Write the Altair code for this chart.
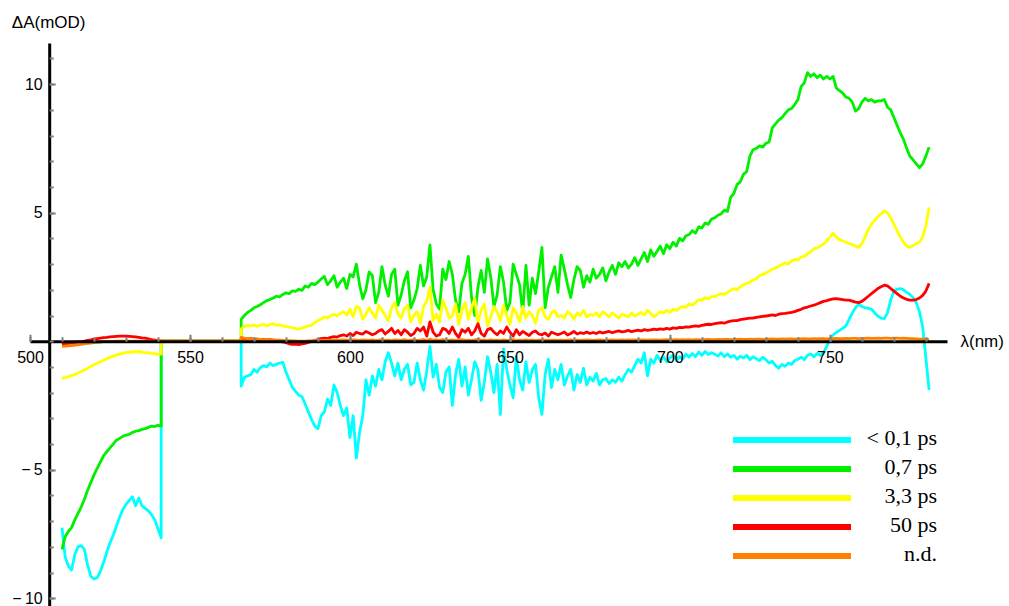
import altair as alt
import pandas as pd

# ---- series (legend order) -------------------------------------------------
SERIES = ["< 0,1 ps", "0,7 ps", "3,3 ps", "50 ps", "n.d."]
COLORS = ["#00FFFF", "#00F000", "#FFFF00", "#FF0000", "#FF8000"]

# ---- wavelength grids (nm) -------------------------------------------------
LEFT_NM = list(range(510, 542))      # blue-green probe window
MAIN_NM = list(range(566, 782))      # red / near-IR probe window
GAP_NM = [541, 566]                  # no probe light between windows -> 0

# ---- ΔA (mOD), 510-541 nm ---------------------------------------------------
left_cyan = [-7.25, -8.4, -8.75, -8.9, -8.3, -8.0, -7.95, -8.1, -8.7, -9.15,
             -9.25, -9.2, -8.95, -8.6, -8.2, -7.85, -7.55, -7.2, -6.85, -6.55,
             -6.35, -6.2, -6.05, -6.4, -6.1, -6.4, -6.5, -6.6, -6.75, -6.95,
             -7.3, -7.65]
left_green = [-8.1, -7.6, -7.4, -7.25, -6.95, -6.7, -6.45, -6.15, -5.8, -5.5,
              -5.2, -4.95, -4.7, -4.45, -4.3, -4.15, -4.0, -3.85, -3.78, -3.7,
              -3.65, -3.62, -3.55, -3.5, -3.48, -3.43, -3.4, -3.35, -3.3, -3.32,
              -3.27, -3.3]
left_yellow = [-1.45, -1.42, -1.38, -1.34, -1.3, -1.24, -1.18, -1.12, -1.05, -0.98,
               -0.92, -0.86, -0.8, -0.74, -0.68, -0.63, -0.58, -0.54, -0.5, -0.47,
               -0.44, -0.43, -0.42, -0.41, -0.4, -0.42, -0.45, -0.44, -0.47, -0.48,
               -0.5, -0.5]
left_red = [-0.1, -0.09, -0.08, -0.07, -0.05, -0.03, -0.02, 0.0, 0.03, 0.05,
            0.08, 0.1, 0.12, 0.14, 0.15, 0.17, 0.18, 0.19, 0.2, 0.2,
            0.2, 0.19, 0.18, 0.17, 0.15, 0.13, 0.12, 0.09, 0.06, 0.04,
            0.02, 0.0]
left_orange = [-0.2, -0.19, -0.18, -0.17, -0.15, -0.14, -0.12, -0.1, -0.08, -0.07,
               -0.05, -0.04, -0.03, -0.02, -0.02, -0.01, -0.01, 0.0, 0.0, 0.0,
               0.0, 0.0, 0.0, 0.0, 0.0, 0.0, 0.0, 0.0, 0.0, 0.0,
               0.0, 0.0]

# ---- ΔA (mOD), 566-781 nm ---------------------------------------------------
main_cyan = [
    -1.75, -1.4, -1.35, -1.3, -1.1, -1.2, -1.02, -0.95, -1.0, -0.85,
    -0.95, -0.9, -0.85, -0.82, -1.2, -1.5, -1.8, -1.95, -2.1, -2.15,
    -2.45, -2.75, -3.05, -3.3, -3.4, -2.9, -2.75, -2.25, -2.5, -1.7,
    -2.0, -2.5, -2.9, -2.6, -3.75, -2.9, -4.55, -3.55, -2.9, -1.5,
    -2.1, -1.35, -1.75, -1.1, -1.5, -0.8, -0.45, -0.85, -1.35, -0.85,
    -1.5, -1.1, -0.9, -1.7, -1.6, -0.85, -1.5, -1.9, -1.15, -0.2,
    -1.4, -0.9, -1.8, -2.0, -1.2, -1.0, -2.5, -1.3, -0.7, -1.75,
    -1.0, -2.1, -1.5, -0.8, -1.1, -2.3, -1.6, -0.6, -1.2, -2.0,
    -0.9, -2.85, -0.3, -1.1, -1.7, -2.2, -0.6, -1.5, -1.9, -0.8,
    -1.6, -1.1, -0.9, -2.2, -2.85, -1.3, -0.7, -1.8, -1.1, -1.5,
    -0.9, -1.7, -1.35, -1.1, -1.9, -1.3, -1.6, -1.05, -1.7, -1.4,
    -1.55, -1.25, -1.7, -1.5, -1.45, -1.65, -1.5, -1.6, -1.4, -1.55,
    -1.3, -1.1, -1.2, -0.95, -0.7, -0.85, -0.45, -1.35, -0.7, -0.85,
    -0.55, -0.75, -0.6, -0.8, -0.65, -0.55, -0.75, -0.6, -0.7, -0.5,
    -0.62, -0.48, -0.6, -0.42, -0.55, -0.4, -0.52, -0.45, -0.5, -0.58,
    -0.45, -0.6, -0.5, -0.62, -0.55, -0.7, -0.58, -0.65, -0.55, -0.72,
    -0.6, -0.68, -0.75, -0.62, -0.72, -0.85, -0.78, -0.95, -1.05, -0.9,
    -0.98, -0.85, -0.9, -0.75, -0.7, -0.62, -0.72, -0.55, -0.5, -0.6,
    -0.48, -0.55, -0.45, -0.2, 0.08, 0.25, 0.34, 0.42, 0.5, 0.6,
    0.85, 1.1, 1.3, 1.44, 1.35, 1.3, 1.28, 1.25, 1.1, 0.98,
    0.9, 0.88, 1.1, 1.6, 1.95, 2.02, 2.05, 2.0, 1.9, 1.82,
    1.7, 1.5, 1.15, 0.55, -0.65, -1.9,
]
main_green = [
    0.85, 1.0, 1.12, 1.2, 1.3, 1.35, 1.42, 1.5, 1.58, 1.62,
    1.68, 1.75, 1.72, 1.82, 1.88, 1.85, 1.96, 1.94, 2.02, 1.98,
    2.15, 2.1, 2.25, 2.2, 2.3, 2.42, 2.52, 2.2, 2.35, 2.55,
    2.1, 2.3, 2.45, 2.05, 2.6, 2.5, 3.0, 2.2, 1.65, 2.0,
    2.7, 2.55, 1.5, 1.9, 2.9, 2.2, 1.75, 2.6, 2.8, 1.4,
    1.8, 2.35, 2.7, 1.3, 1.6, 2.05, 2.95, 2.15, 2.5, 3.75,
    2.0, 1.45, 1.25, 2.8, 2.4, 3.1, 2.6, 1.6, 1.15, 2.25,
    2.6, 3.3, 1.7, 1.0, 2.1, 2.75, 1.9, 3.2, 2.5, 1.35,
    1.8, 2.9, 2.3, 1.2, 1.5, 3.0, 2.6, 2.2, 1.1, 2.95,
    1.4, 2.45, 1.85, 2.7, 3.65, 1.3, 2.1, 2.5, 2.9, 1.9,
    3.35, 2.8, 2.2, 1.7, 2.4, 2.9, 2.75, 2.1, 2.55, 2.3,
    2.8, 2.45, 2.6, 2.85, 2.35, 2.7, 2.95, 2.6, 3.05, 2.9,
    3.1, 2.85, 3.0, 3.25, 2.95, 3.2, 3.45, 3.1, 3.55, 3.3,
    3.5, 3.7, 3.4, 3.75, 3.6, 3.85, 3.7, 4.0, 3.9, 4.1,
    4.15, 4.3, 4.2, 4.45, 4.4, 4.6, 4.55, 4.75, 4.8, 4.9,
    4.95, 5.1, 5.05, 5.6, 5.75, 6.1, 6.2, 6.5, 6.6, 7.2,
    7.45, 7.5, 7.6, 7.55, 7.7, 7.75, 8.3, 8.45, 8.6, 8.7,
    8.85, 9.0, 9.05, 9.2, 9.4, 9.9, 10.05, 10.45, 10.3, 10.4,
    10.25, 10.35, 10.2, 10.3, 10.2, 10.3, 9.85, 9.75, 9.65, 9.5,
    9.45, 9.3, 8.95, 9.05, 9.3, 9.45, 9.35, 9.4, 9.3, 9.35,
    9.35, 9.4, 9.1, 9.0, 8.7, 8.4, 8.1, 7.85, 7.5, 7.2,
    7.05, 6.9, 6.75, 6.9, 7.2, 7.55,
]
main_yellow = [
    0.48, 0.58, 0.62, 0.6, 0.63, 0.58, 0.62, 0.66, 0.6, 0.65,
    0.68, 0.62, 0.64, 0.6, 0.57, 0.55, 0.52, 0.5, 0.47, 0.52,
    0.55, 0.6, 0.62, 0.72, 0.8, 0.86, 0.95, 0.9, 1.0, 1.05,
    0.98, 1.08, 1.15, 1.02, 1.25, 0.95, 1.35, 1.3, 0.85, 1.05,
    1.3, 1.1, 0.9, 1.4, 1.2, 1.0, 0.8, 1.3, 1.5, 1.05,
    0.9, 1.25, 1.4, 0.75, 1.0, 1.15, 0.7, 1.35, 1.55, 2.1,
    0.8, 1.05, 0.75, 1.6, 1.3, 0.9, 1.0, 1.45, 0.65, 1.2,
    1.5, 0.85, 1.3, 1.65, 0.7, 1.2, 1.45, 0.6, 0.95, 1.35,
    1.15, 0.8, 1.4, 1.0, 0.65, 1.3, 1.1, 0.75, 1.35, 0.9,
    1.15, 1.0, 0.7, 1.2, 1.3, 0.95, 0.85, 1.1, 1.2, 0.95,
    1.0, 0.9, 1.15, 1.05, 0.85, 1.1, 1.0, 1.2, 0.95, 1.05,
    1.0, 1.1, 0.95, 1.15, 1.05, 0.95, 1.1, 1.0, 0.9, 1.05,
    1.0, 0.95, 1.1, 0.98, 1.05, 1.12, 1.02, 1.2, 1.08, 0.95,
    1.05, 1.15, 1.1, 1.2, 1.12, 1.25, 1.2, 1.3, 1.35, 1.32,
    1.45, 1.4, 1.5, 1.62, 1.58, 1.7, 1.65, 1.75, 1.72, 1.8,
    1.85, 1.82, 1.9, 1.98, 2.05, 2.0, 2.12, 2.2, 2.25, 2.3,
    2.38, 2.42, 2.55, 2.6, 2.65, 2.72, 2.8, 2.85, 2.92, 2.98,
    3.05, 3.0, 3.12, 3.18, 3.15, 3.28, 3.3, 3.4, 3.48, 3.6,
    3.62, 3.7, 3.78, 3.9, 4.05, 4.2, 4.05, 3.95, 3.9, 3.85,
    3.8, 3.75, 3.7, 3.65, 3.8, 4.05, 4.35, 4.55, 4.7, 4.85,
    4.95, 5.07, 5.0, 4.8, 4.55, 4.3, 4.05, 3.85, 3.7, 3.65,
    3.72, 3.8, 3.85, 4.05, 4.5, 5.2,
]
main_red = [
    0.12, 0.1, 0.08, 0.1, 0.07, 0.08, 0.06, 0.07, 0.05, 0.06,
    0.04, 0.03, 0.0, -0.03, -0.06, -0.1, -0.12, -0.11, -0.13, -0.1,
    -0.08, -0.05, -0.01, 0.03, 0.06, 0.1, 0.12, 0.1, 0.15, 0.18,
    0.16, 0.22, 0.25, 0.2, 0.3, 0.22, 0.35, 0.3, 0.28, 0.38,
    0.32, 0.25, 0.3, 0.4, 0.45, 0.28, 0.38, 0.5, 0.3, 0.42,
    0.25, 0.45, 0.35, 0.22, 0.3, 0.5, 0.4, 0.55, 0.2, 0.75,
    0.35, 0.2, 0.25, 0.5, 0.45, 0.3, 0.55, 0.3, 0.15, 0.45,
    0.35, 0.5, 0.25, 0.4, 0.68, 0.3, 0.2, 0.45, 0.5, 0.35,
    0.25, 0.4, 0.3, 0.55, 0.35, 0.2, 0.45, 0.25, 0.38, 0.3,
    0.22, 0.35, 0.4, 0.28, 0.25, 0.32, 0.2, 0.35, 0.3, 0.25,
    0.3, 0.36, 0.24, 0.3, 0.38, 0.28, 0.33, 0.3, 0.36, 0.3,
    0.34, 0.3, 0.36, 0.32, 0.35, 0.38, 0.33, 0.37, 0.4, 0.36,
    0.38, 0.42, 0.37, 0.4, 0.43, 0.4, 0.45, 0.42, 0.44, 0.47,
    0.45, 0.48, 0.46, 0.5, 0.47, 0.52, 0.5, 0.54, 0.53, 0.56,
    0.55, 0.58, 0.6, 0.58, 0.62, 0.64, 0.66, 0.65, 0.68, 0.7,
    0.72, 0.7, 0.75, 0.78, 0.8, 0.8, 0.84, 0.86, 0.88, 0.9,
    0.9, 0.93, 0.95, 0.97, 0.98, 1.0, 1.02, 1.0, 1.05, 1.07,
    1.08, 1.1, 1.12, 1.15, 1.2, 1.24, 1.3, 1.33, 1.37, 1.4,
    1.45, 1.5, 1.55, 1.58, 1.62, 1.65, 1.66, 1.64, 1.62, 1.6,
    1.6, 1.56, 1.52, 1.5, 1.55, 1.65, 1.75, 1.85, 1.95, 2.05,
    2.12, 2.18, 2.15, 2.05, 1.95, 1.85, 1.75, 1.68, 1.63, 1.6,
    1.6, 1.62, 1.68, 1.78, 1.95, 2.25,
]
main_orange = [
    0.15, 0.12, 0.1, 0.1, 0.08, 0.08, 0.07, 0.06, 0.06, 0.05,
    0.05, 0.04, 0.04, 0.03, 0.02, 0.02, 0.01, 0.01, 0.0, 0.0,
    0.0, 0.01, 0.02, 0.02, 0.03, 0.03, 0.04, 0.03, 0.04, 0.04,
    0.03, 0.04, 0.05, 0.04, 0.03, 0.05, 0.04, 0.03, 0.05, 0.04,
    0.03, 0.05, 0.02, 0.04, 0.06, 0.03, 0.04, 0.02, 0.05, 0.04,
    0.03, 0.06, 0.02, 0.04, 0.05, 0.03, 0.04, 0.06, 0.02, 0.08,
    0.03, 0.05, 0.02, 0.06, 0.04, 0.03, 0.05, 0.02, 0.04, 0.06,
    0.03, 0.04, 0.02, 0.05, 0.07, 0.03, 0.04, 0.02, 0.05, 0.03,
    0.04, 0.02, 0.05, 0.03, 0.04, 0.06, 0.02, 0.04, 0.03, 0.05,
    0.03, 0.04, 0.02, 0.04, 0.05, 0.03, 0.04, 0.03, 0.04, 0.03,
    0.04, 0.03, 0.04, 0.05, 0.03, 0.04, 0.03, 0.04, 0.05, 0.04,
    0.03, 0.04, 0.05, 0.04, 0.03, 0.04, 0.05, 0.04, 0.04, 0.05,
    0.04, 0.05, 0.04, 0.05, 0.04, 0.05, 0.05, 0.04, 0.05, 0.05,
    0.05, 0.04, 0.05, 0.06, 0.05, 0.05, 0.06, 0.05, 0.06, 0.05,
    0.06, 0.05, 0.06, 0.06, 0.05, 0.06, 0.07, 0.06, 0.06, 0.07,
    0.06, 0.07, 0.07, 0.06, 0.07, 0.07, 0.08, 0.07, 0.07, 0.08,
    0.07, 0.08, 0.08, 0.07, 0.08, 0.08, 0.09, 0.08, 0.08, 0.09,
    0.08, 0.09, 0.09, 0.08, 0.09, 0.09, 0.1, 0.09, 0.09, 0.1,
    0.09, 0.1, 0.1, 0.09, 0.1, 0.1, 0.11, 0.1, 0.1, 0.11,
    0.1, 0.11, 0.11, 0.1, 0.11, 0.11, 0.12, 0.11, 0.11, 0.12,
    0.11, 0.12, 0.12, 0.11, 0.12, 0.12, 0.11, 0.12, 0.11, 0.1,
    0.1, 0.09, 0.08, 0.08, 0.07, 0.06,
]

LEFT = [left_cyan, left_green, left_yellow, left_red, left_orange]
MAIN = [main_cyan, main_green, main_yellow, main_red, main_orange]

# ---- axis ticks / labels -----------------------------------------------------
X_LABELS = [500, 550, 600, 650, 700, 750]
X_MINOR = list(range(500, 790, 10))
Y_LABELS = [-10, -5, 5, 10]
Y_MINOR = list(range(-10, 12))

# ---- long-format table -------------------------------------------------------
rows = []
for name, left, main in zip(SERIES, LEFT, MAIN):
    assert len(left) == len(LEFT_NM) and len(main) == len(MAIN_NM), name
    seq = (list(zip(LEFT_NM, left))
           + [(g, 0.0) for g in GAP_NM]
           + list(zip(MAIN_NM, main)))
    for k, (nm, v) in enumerate(seq):
        rows.append({"series": name, "nm": nm, "dA": v, "k": k})
df = pd.DataFrame(rows)

# ---- geometry ----------------------------------------------------------------
W, H = 917, 563
X_MIN, X_MAX = 500.0, 786.6
Y_MIN, Y_MAX = -10.3, 11.6
Y_AXIS_NM = 506.0                                   # where the ΔA axis crosses
y0_px = H * (Y_MAX - 0.0) / (Y_MAX - Y_MIN)         # pixel row of ΔA = 0
x0_px = W * (Y_AXIS_NM - X_MIN) / (X_MAX - X_MIN)   # pixel column of ΔA axis

xs = alt.Scale(domain=[X_MIN, X_MAX], nice=False, zero=False)
ys = alt.Scale(domain=[Y_MIN, Y_MAX], nice=False, zero=False)
cs = alt.Scale(domain=SERIES, range=COLORS)

SANS = "Liberation Sans"
SERIF = "Liberation Serif"
TICK = "#808080"

x_main_axis = alt.Axis(
    orient="bottom", offset=-(H - y0_px), values=X_LABELS, ticks=False,
    domainColor="black", domainWidth=3, grid=False,
    labelFont=SANS, labelFontSize=16, labelColor="black", labelPadding=8,
    labelFlush=False, labelOverlap=False,
    title="λ(nm)", titleFont=SANS, titleFontSize=17, titleFontWeight="normal",
    titleColor="black", titleAlign="left", titleBaseline="middle",
    titleX=W + 13, titleY=0, zindex=1,
)
y_main_axis = alt.Axis(
    orient="left", offset=-x0_px, values=Y_LABELS, ticks=False,
    domainColor="black", domainWidth=3, grid=False,
    labelFont=SANS, labelFontSize=16, labelColor="black", labelPadding=7,
    labelExpr="datum.value < 0 ? '\u2212\u2009' + abs(datum.value) : datum.label",
    title="ΔA(mOD)", titleFont=SANS, titleFontSize=17, titleFontWeight="normal",
    titleColor="black", titleAngle=0, titleAlign="center", titleBaseline="middle",
    titleX=-1, titleY=-21, zindex=1,
)

lines = alt.Chart(df).mark_line(strokeWidth=2.8, strokeJoin="round").encode(
    x=alt.X("nm:Q", scale=xs, axis=x_main_axis),
    y=alt.Y("dA:Q", scale=ys, axis=y_main_axis),
    color=alt.Color("series:N", scale=cs, legend=None),
    order=alt.Order("k:Q"),
)


def tick_layer(xvals, xsize, yvals, ysize):
    """Invisible layer that only carries inward-pointing tick marks."""
    anchor = pd.DataFrame({"nm": [X_MIN], "dA": [0.0]})
    return alt.Chart(anchor).mark_point(opacity=0).encode(
        x=alt.X("nm:Q", scale=xs, axis=alt.Axis(
            orient="top", offset=-y0_px, values=xvals, labels=False,
            domain=False, tickSize=xsize, tickWidth=2, tickColor=TICK,
            grid=False, title=None, zindex=2)),
        y=alt.Y("dA:Q", scale=ys, axis=alt.Axis(
            orient="right", offset=-(W - x0_px), values=yvals, labels=False,
            domain=False, tickSize=ysize, tickWidth=2, tickColor=TICK,
            grid=False, title=None, zindex=2)),
    )


minor_ticks = tick_layer(X_MINOR, 4.5, Y_MINOR, 4)
major_ticks = tick_layer(X_LABELS, 7, [-10, -5, 5, 10], 6)

# ---- legend: coloured bars with right-aligned labels ------------------------
leg = pd.DataFrame({"series": SERIES})
leg_y = alt.Y("series:N", sort=SERIES, axis=None,
              scale=alt.Scale(type="point", range=[397, 513], padding=0))
swatches = alt.Chart(leg).mark_rule(strokeWidth=6).encode(
    x=alt.value(703), x2=alt.value(821), y=leg_y,
    color=alt.Color("series:N", scale=cs, legend=None),
)
leg_text = alt.Chart(leg).mark_text(
    align="right", baseline="middle", font=SERIF, fontSize=22, dy=-2, color="black"
).encode(x=alt.value(907), y=leg_y, text="series:N")

chart = (
    alt.layer(lines, minor_ticks, major_ticks, swatches, leg_text)
    .resolve_scale(y="independent")
    .resolve_axis(x="independent", y="independent")
    .properties(
        width=W, height=H,
        autosize=alt.AutoSizeParams(type="none"),
        padding={"left": 30, "top": 43, "right": 62, "bottom": 0},
    )
    .configure(background="white")
    .configure_view(stroke=None)
)

chart.save("out.html", embed_options={"renderer": "svg", "actions": False})
